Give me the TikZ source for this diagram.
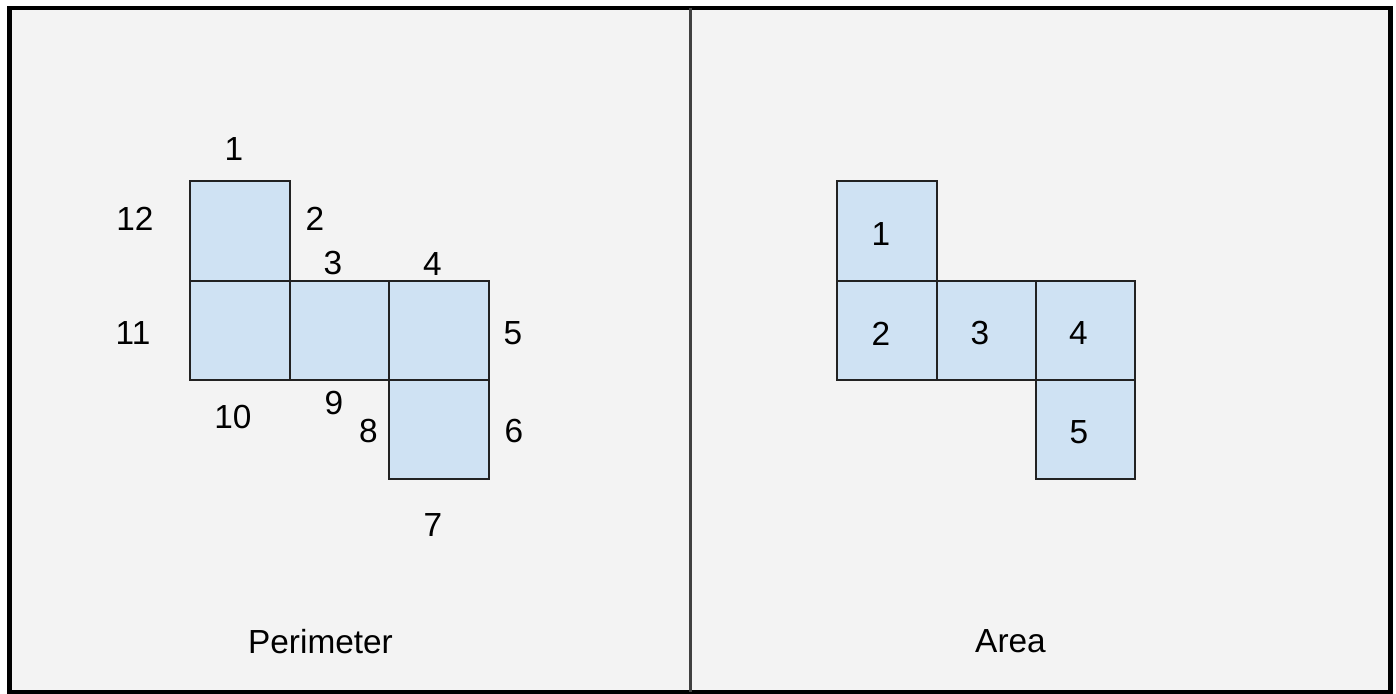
\documentclass[tikz,border=0pt]{standalone}
\usepackage{fontspec}
\setmainfont{Liberation Sans}
\usepackage{xcolor}
\usepackage{tikz}
\definecolor{panelgray}{HTML}{F3F3F3}
\definecolor{cellblue}{HTML}{CFE2F3}
\definecolor{cellline}{HTML}{222222}

\begin{document}
\begin{tikzpicture}[
    cell/.style={rectangle, draw=cellline, fill=cellblue, line width=0.02cm, minimum size=0.995cm, inner sep=0pt},
    num/.style={font=\fontsize{9.5}{11}\selectfont, inner sep=0pt},
    caption/.style={font=\fontsize{9.5}{11}\selectfont, inner sep=0pt}
]
\useasboundingbox (0,0) rectangle (13.96,-6.94);
\fill[white] (0,0) rectangle (13.96,-6.94);
\draw[line width=0.045cm, fill=panelgray] (0.097,-0.08) rectangle (13.905,-6.92);
\coordinate (divtop) at (6.907,-0.08);
\coordinate (divbot) at (6.907,-6.92);
\draw[line width=0.025cm, color=black!75] (divtop) -- (divbot);

% perimeter side
\node[cell] (p1) at (2.40,-2.31) {};
\node[cell] (p2) at (2.40,-3.305) {};
\node[cell] (p3) at (3.395,-3.305) {};
\node[cell] (p4) at (4.39,-3.305) {};
\node[cell] (p5) at (4.39,-4.295) {};

\node[num] (e1) at (2.34,-1.495) {1};
\node[num] (e2) at (3.15,-2.19) {2};
\node[num] (e3) at (3.33,-2.63) {3};
\node[num] (e4) at (4.325,-2.645) {4};
\node[num] (e5) at (5.13,-3.33) {5};
\node[num] (e6) at (5.14,-4.315) {6};
\node[num] (e7) at (4.33,-5.255) {7};
\node[num] (e8) at (3.685,-4.31) {8};
\node[num] (e9) at (3.34,-4.035) {9};
\node[num] (e10) at (2.33,-4.17) {10};
\node[num] (e11) at (1.33,-3.33) {11};
\node[num] (e12) at (1.35,-2.19) {12};

\node[caption] (perim) at (3.205,-6.415) {Perimeter};

% area side
\node[cell] (a1) at (8.87,-2.31) {};
\node[cell] (a2) at (8.87,-3.305) {};
\node[cell] (a3) at (9.865,-3.305) {};
\node[cell] (a4) at (10.855,-3.305) {};
\node[cell] (a5) at (10.855,-4.295) {};

\node[num] (n1) at (8.81,-2.345) {1};
\node[num] (n2) at (8.81,-3.335) {2};
\node[num] (n3) at (9.80,-3.33) {3};
\node[num] (n4) at (10.785,-3.33) {4};
\node[num] (n5) at (10.79,-4.32) {5};

\node[caption] (area) at (10.105,-6.415) {Area};
\end{tikzpicture}
\end{document}
